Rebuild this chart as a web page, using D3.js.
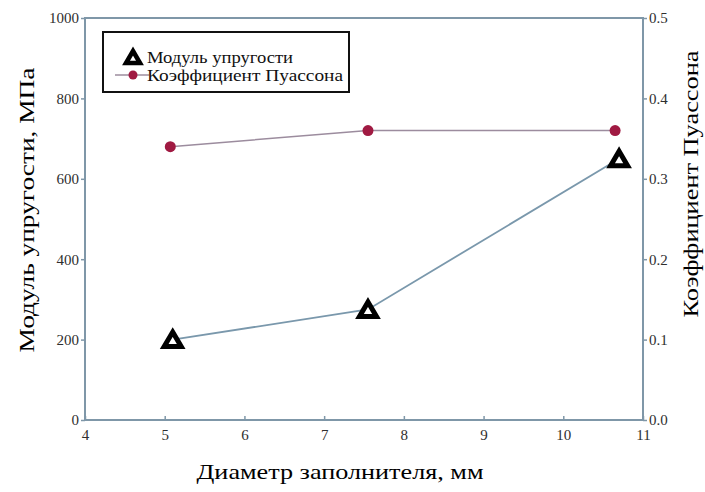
<!DOCTYPE html>
<html>
<head>
<meta charset="utf-8">
<script src="https://cdn.jsdelivr.net/npm/d3@7"></script>
<style>
  body { margin: 0; background: #fff; }
  text { font-family: "Liberation Serif", "DejaVu Serif", serif; }
</style>
</head>
<body>
<svg id="chart"></svg>
<script>
const modulusX = [5.1, 7.55, 10.7];
const modulusValues = [200, 275, 650];
const poissonX = [5.07, 7.55, 10.65];
const poissonValues = [0.34, 0.36, 0.36];
const xTicks = [4, 5, 6, 7, 8, 9, 10, 11];
const leftTicks = [0, 200, 400, 600, 800, 1000];
const rightTicks = [0, 0.1, 0.2, 0.3, 0.4, 0.5];
const seriesNames = ["Модуль упругости", "Коэффициент Пуассона"];

const width = 705, height = 492;
const margin = { top: 18, right: 62, bottom: 72, left: 85 };
const axisColor = "#7f97a8";
const lineColor = "#7a98ac";
const poissonLine = "#9c8c9e";
const dotColor = "#a01a42";

const svg = d3.select("#chart").attr("width", width).attr("height", height);

const x = d3.scaleLinear().domain([4, 11]).range([margin.left, width - margin.right]);
const yL = d3.scaleLinear().domain([0, 1000]).range([height - margin.bottom, margin.top]);
const yR = d3.scaleLinear().domain([0, 0.5]).range([height - margin.bottom, margin.top]);

// frame
svg.append("rect")
  .attr("x", x(4)).attr("y", yL(1000))
  .attr("width", x(11) - x(4)).attr("height", yL(0) - yL(1000))
  .style("fill", "none").style("stroke", axisColor).style("stroke-width", 2);

function styleAxis(g) {
  g.select(".domain").remove();
  g.selectAll(".tick line").style("stroke", axisColor).style("stroke-width", 1.5);
  g.selectAll(".tick text")
    .style("font-size", "15px")
    .style("fill", "#2e2e2e");
}

svg.append("g")
  .attr("transform", `translate(0,${yL(0)})`)
  .call(d3.axisBottom(x).tickValues(xTicks).tickSize(-4).tickPadding(9).tickFormat(d3.format("d")))
  .call(styleAxis);

svg.append("g")
  .attr("transform", `translate(${x(4)},0)`)
  .call(d3.axisLeft(yL).tickValues(leftTicks).tickSize(4).tickPadding(2).tickFormat(d3.format("d")))
  .call(styleAxis);

svg.append("g")
  .attr("transform", `translate(${x(11)},0)`)
  .call(d3.axisRight(yR).tickValues(rightTicks).tickSize(4).tickPadding(2).tickFormat(d3.format(".1f")))
  .call(styleAxis);

// poisson series
const poissonData = poissonX.map((v, i) => [v, poissonValues[i]]);
svg.append("path")
  .datum(poissonData)
  .attr("d", d3.line().x((d) => x(d[0])).y((d) => yR(d[1])))
  .style("fill", "none").style("stroke", poissonLine).style("stroke-width", 1.5);

svg.selectAll(".dot")
  .data(poissonData)
  .enter()
  .append("circle")
  .attr("class", "dot")
  .attr("cx", (d) => x(d[0]))
  .attr("cy", (d) => yR(d[1]))
  .attr("r", 5.5)
  .style("fill", dotColor);

// modulus series
const modulusData = modulusX.map((v, i) => [v, modulusValues[i]]);
svg.append("path")
  .datum(modulusData)
  .attr("d", d3.line().x((d) => x(d[0])).y((d) => yL(d[1])))
  .style("fill", "none").style("stroke", lineColor).style("stroke-width", 1.8);

const triangle = "M0,-7.5 L8.5,7 L-8.5,7 Z";
svg.selectAll(".tri")
  .data(modulusData)
  .enter()
  .append("path")
  .attr("class", "tri")
  .attr("d", triangle)
  .attr("transform", (d) => `translate(${x(d[0])},${yL(d[1])})`)
  .style("fill", "#fff").style("stroke", "#000")
  .style("stroke-width", 5).style("stroke-linejoin", "miter");

// legend
const legend = svg.append("g").attr("transform", "translate(103,32)");
legend.append("rect")
  .attr("width", 246).attr("height", 60)
  .style("fill", "#fff").style("stroke", "#111").style("stroke-width", 2);

legend.append("path")
  .attr("d", "M0,-6 L7,6 L-7,6 Z")
  .attr("transform", "translate(30,25)")
  .style("fill", "#fff").style("stroke", "#000").style("stroke-width", 4.5);

legend.append("line")
  .attr("x1", 12).attr("x2", 46).attr("y1", 43).attr("y2", 43)
  .style("stroke", poissonLine).style("stroke-width", 1.5);
legend.append("circle")
  .attr("cx", 30).attr("cy", 43).attr("r", 4.5).style("fill", dotColor);

const legendLengths = [146, 196];
legend.selectAll(".legendText")
  .data(seriesNames)
  .enter()
  .append("text")
  .attr("class", "legendText")
  .attr("x", 44)
  .attr("y", (d, i) => 25 + i * 18)
  .attr("dy", "0.35em")
  .attr("textLength", (d, i) => legendLengths[i])
  .attr("lengthAdjust", "spacingAndGlyphs")
  .style("font-size", "16px")
  .style("fill", "#111")
  .text((d) => d);

// axis titles
svg.append("text")
  .attr("x", 340).attr("y", 479)
  .attr("text-anchor", "middle")
  .attr("textLength", 287)
  .attr("lengthAdjust", "spacingAndGlyphs")
  .style("font-size", "22px")
  .text("Диаметр заполнителя, мм");

svg.append("text")
  .attr("transform", "translate(34,210) rotate(-90)")
  .attr("text-anchor", "middle")
  .attr("textLength", 285)
  .attr("lengthAdjust", "spacingAndGlyphs")
  .style("font-size", "22px")
  .text("Модуль упругости, МПа");

svg.append("text")
  .attr("transform", "translate(698,184) rotate(-90)")
  .attr("text-anchor", "middle")
  .attr("textLength", 267)
  .attr("lengthAdjust", "spacingAndGlyphs")
  .style("font-size", "21px")
  .text("Коэффициент Пуассона");
</script>
</body>
</html>
